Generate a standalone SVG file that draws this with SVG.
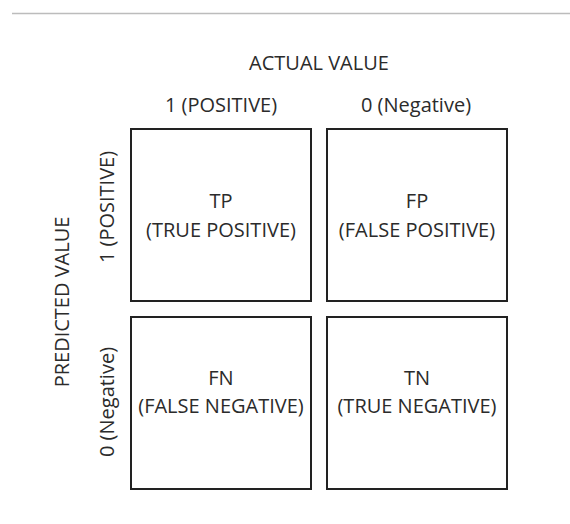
<svg xmlns="http://www.w3.org/2000/svg" width="570" height="524" viewBox="0 0 570 524">
<style>
text{font-family:"Open Sans","Liberation Sans",sans-serif;font-size:20px;fill:#2b2b2b;text-anchor:middle}
.box{fill:#fff;stroke:#222;stroke-width:2}
</style>
<rect width="570" height="524" fill="#fff"/>
<line x1="12" y1="13.5" x2="570" y2="13.5" stroke="#bcbcbc" stroke-width="1.5"/>
<g id="labels">
<text x="319" y="70">ACTUAL VALUE</text>
<text x="221" y="112">1 (POSITIVE)</text>
<text x="416" y="112">0 (Negative)</text>
<text transform="translate(68.5,302) rotate(-90)">PREDICTED VALUE</text>
<text transform="translate(113.5,207) rotate(-90)">1 (POSITIVE)</text>
<text transform="translate(113.5,402) rotate(-90)">0 (Negative)</text>
</g>
<g id="tp">
<rect class="box" x="131" y="129" width="180" height="172"/>
<text x="221" y="208">TP</text>
<text x="221" y="237">(TRUE POSITIVE)</text>
</g>
<g id="fp">
<rect class="box" x="327" y="129" width="180" height="172"/>
<text x="417" y="208">FP</text>
<text x="417" y="237">(FALSE POSITIVE)</text>
</g>
<g id="fn">
<rect class="box" x="131" y="317" width="180" height="172"/>
<text x="221" y="385">FN</text>
<text x="221" y="413">(FALSE NEGATIVE)</text>
</g>
<g id="tn">
<rect class="box" x="327" y="317" width="180" height="172"/>
<text x="417" y="385">TN</text>
<text x="417" y="413">(TRUE NEGATIVE)</text>
</g>
<g id="connectors"></g>
</svg>
